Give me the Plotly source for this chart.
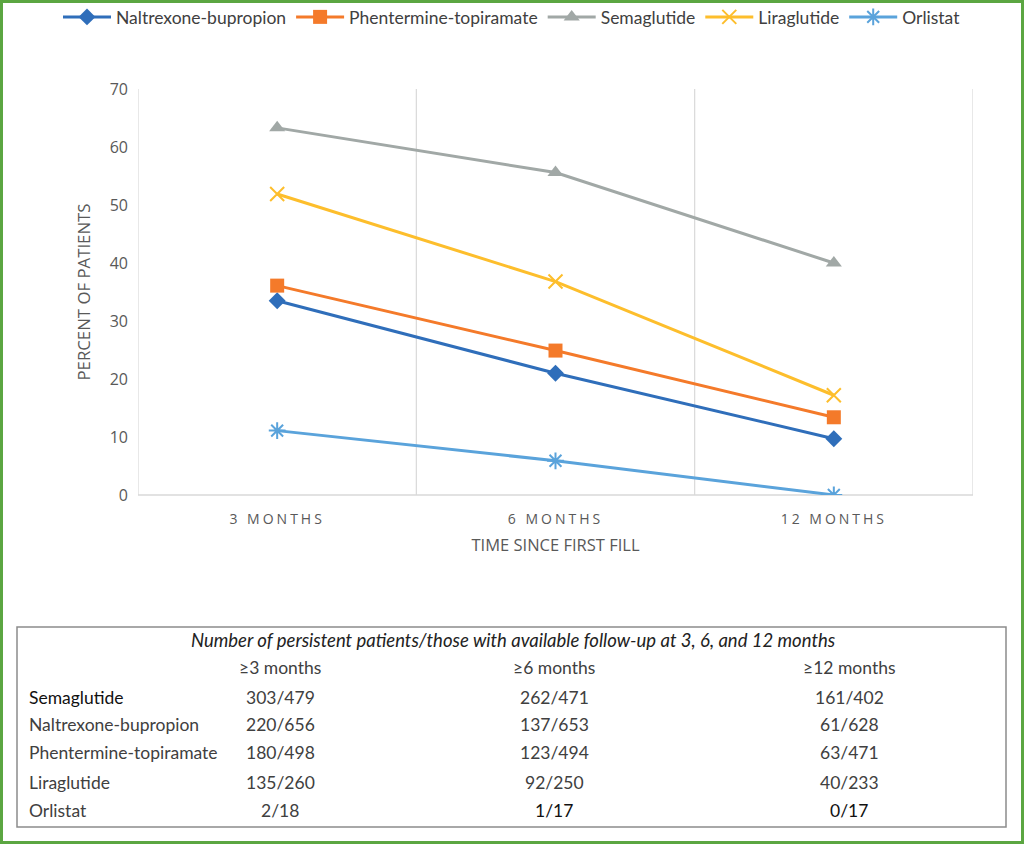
import plotly.graph_objects as go

# ---------------- data ----------------
categories = ["3 MONTHS", "6 MONTHS", "12 MONTHS"]
series_names = ["Naltrexone-bupropion", "Phentermine-topiramate", "Semaglutide", "Liraglutide", "Orlistat"]
naltrexone = [33.5, 21.0, 9.7]
phentermine = [36.1, 24.9, 13.4]
semaglutide = [63.3, 55.6, 40.0]
liraglutide = [51.9, 36.8, 17.2]
orlistat = [11.1, 5.9, 0.0]
y_ticks = [0, 10, 20, 30, 40, 50, 60, 70]

table_title = "Number of persistent patients/those with available follow-up at 3, 6, and 12 months"
table_headers = ["≥3 months", "≥6 months", "≥12 months"]
table_rows = ["Semaglutide", "Naltrexone-bupropion", "Phentermine-topiramate", "Liraglutide", "Orlistat"]
col_3m = ["303/479", "220/656", "180/498", "135/260", "2/18"]
col_6m = ["262/471", "137/653", "123/494", "92/250", "1/17"]
col_12m = ["161/402", "61/628", "63/471", "40/233", "0/17"]

# ---------------- layout geometry ----------------
W, H = 1024, 844
L, R, T, B = 138, 51, 89, 349
PW, PH = W - L - R, H - T - B


def px(x):
    return (x - L) / PW


def py(y):
    return (H - B - y) / PH


colors = ["#2F6EBA", "#F47A2A", "#A1A8A6", "#FDBE2C", "#5AA3DB"]
symbols = ["diamond", "square", "triangle-up", "x-thin-open", "asterisk-open"]
sizes = [13, 14, 14, 14, 14]
values = [naltrexone, phentermine, semaglutide, liraglutide, orlistat]

fig = go.Figure()
xs = list(range(len(categories)))
for name, vals, c, s, sz in zip(series_names, values, colors, symbols, sizes):
    fig.add_trace(go.Scatter(
        x=xs, y=vals, name=name, mode="lines+markers",
        line=dict(color=c, width=3),
        marker=dict(symbol=s, size=sz, color=c, line=dict(color=c, width=2 if "open" in s else 0)),
    ))

grid = "#D9D9D9"
shapes = []
for xv in [-0.5, 0.5, 1.5, 2.5]:
    shapes.append(dict(type="line", xref="x", yref="paper", x0=xv, x1=xv, y0=0, y1=1,
                       line=dict(color=grid, width=1.2), layer="below"))
shapes.append(dict(type="line", xref="paper", yref="paper", x0=0, x1=1, y0=0, y1=0,
                   line=dict(color=grid, width=1.5), layer="below"))
# table border
shapes.append(dict(type="rect", xref="paper", yref="paper", x0=px(17), x1=px(1006), y0=py(827), y1=py(627),
                   line=dict(color="#8C8C8C", width=1.5)))
# outer green border
shapes.append(dict(type="rect", xref="paper", yref="paper", x0=px(1.5), x1=px(W - 1.5), y0=py(H - 1.5), y1=py(1.5),
                   line=dict(color="#5BA641", width=3)))

annotations = []
tfont = "Lato, Carlito, Liberation Sans"
tsize = 17.5
annotations.append(dict(text="<i>" + table_title + "</i>", xref="paper", yref="paper",
                        x=px(513), y=py(640), xanchor="center", yanchor="middle", showarrow=False,
                        font=dict(family=tfont, size=18.5, color="#222222")))
col_x = [280, 554, 849]
for htxt, hx in zip(table_headers, col_x):
    annotations.append(dict(text=htxt, xref="paper", yref="paper", x=px(hx), y=py(667),
                            xanchor="center", yanchor="middle", showarrow=False,
                            font=dict(family=tfont, size=tsize, color="#404040")))
row_y = [697, 724, 752, 782, 810]
for i, (rname, a, b, c) in enumerate(zip(table_rows, col_3m, col_6m, col_12m)):
    yy = py(row_y[i])
    annotations.append(dict(text=rname, xref="paper", yref="paper", x=px(27), y=yy,
                            xanchor="left", yanchor="middle", showarrow=False,
                            font=dict(family=tfont, size=tsize, color="#111111" if i == 0 else "#404040")))
    for val, cx, dark in [(a, col_x[0], False), (b, col_x[1], i == 4), (c, col_x[2], i == 4)]:
        annotations.append(dict(text=val, xref="paper", yref="paper", x=px(cx), y=yy,
                                xanchor="center", yanchor="middle", showarrow=False,
                                font=dict(family=tfont, size=tsize, color="#111111" if dark else "#404040")))

axis_font = "Open Sans"
fig.update_layout(
    width=W, height=H,
    margin=dict(l=L, r=R, t=T, b=B, pad=0, autoexpand=False),
    paper_bgcolor="white", plot_bgcolor="white",
    showlegend=True,
    legend=dict(orientation="h", xref="paper", yref="paper",
                x=px(58), y=py(17), xanchor="left", yanchor="middle",
                bgcolor="rgba(0,0,0,0)", itemwidth=48,
                font=dict(family=tfont, size=17.5, color="#404040")),
    xaxis=dict(range=[-0.5, 2.5], tickmode="array", tickvals=xs,
               ticktext=['<span style="letter-spacing:3px">' + c + '</span>' for c in categories],
               showgrid=False, zeroline=False, showline=False, ticks="", ticklabelstandoff=14,
               tickfont=dict(family=axis_font, size=14, color="#595959"),
               title=dict(text="TIME SINCE FIRST FILL", standoff=12,
                          font=dict(family=axis_font, size=16.5, color="#595959"))),
    yaxis=dict(range=[0, 70], tickmode="array", tickvals=y_ticks,
               showgrid=False, zeroline=False, showline=False, ticks="", ticklabelstandoff=9,
               tickfont=dict(family=axis_font, size=16, color="#595959"),
               title=dict(text="PERCENT OF PATIENTS", standoff=14,
                          font=dict(family=axis_font, size=16.8, color="#595959"))),
    shapes=shapes,
    annotations=annotations,
)

fig.write_html("out.html", config={"displayModeBar": False},
               post_script="document.body.style.margin='0';")
